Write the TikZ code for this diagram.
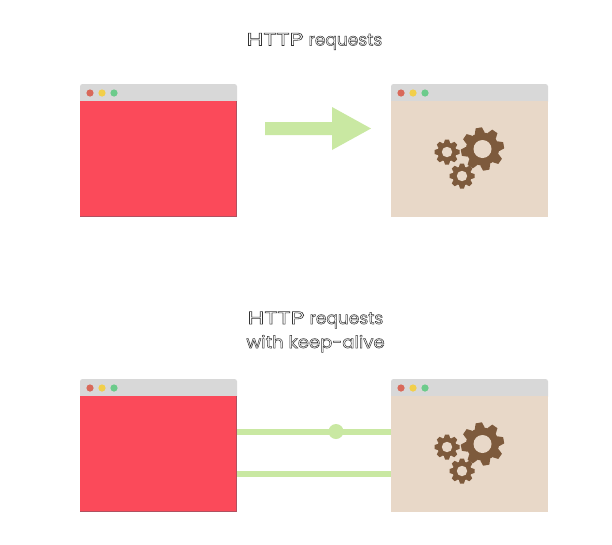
\documentclass[tikz,border=0pt]{standalone}
\usepackage{fontspec}
\usepackage{graphicx}
\setmainfont{Poppins}
\usetikzlibrary{calc}
\definecolor{winred}{HTML}{FB4A5A}
\definecolor{winedge}{HTML}{B05060}
\definecolor{winbeige}{HTML}{E8D8C8}
\definecolor{wintitle}{HTML}{D8D8D8}
\definecolor{linkgreen}{HTML}{C9E8A2}
\definecolor{gearbrown}{HTML}{7D5A3C}
\definecolor{dotred}{HTML}{D9695A}
\definecolor{dotyellow}{HTML}{F2CF4A}
\definecolor{dotgreen}{HTML}{6CCB8B}
\tikzset{
  body/.style={draw=none,inner sep=0pt,minimum width=157pt,anchor=north west},
  titlebar/.style={fill=wintitle,rounded corners=2.5pt},
  lbl/.style={inner sep=0pt,align=center,font=\fontsize{17}{24}\selectfont},
  link/.style={draw=linkgreen,line width=6pt},
}
\newcommand{\outl}[1]{\special{pdf:code 2 Tr 0.5 w 0.2 0.2 0.2 RG 1 1 1 rg}#1\special{pdf:code 0 Tr 0 0 0 RG 0 0 0 rg}}
\newcommand{\httpreq}{\scalebox{1.42}[1.05]{\outl{HTTP}}\hspace{5pt}\outl{requests}}
% \gearshape{x}{y}{outer r}{hole r}{tooth half width}{root r}{offset}
\newcommand{\gearshape}[7]{%
  \fill[gearbrown] (#1,#2) circle (#6pt);
  \foreach \a in {0,45,...,315}{
    \fill[gearbrown,shift={(#1,#2)},rotate=\a+#7] (0,-#5) -- (#6,-#5*1.15) -- (#3,-#5*.75) -- (#3,#5*.75) -- (#6,#5*1.15) -- (0,#5) -- cycle;
  }
  \fill[winbeige] (#1,#2) circle (#4pt);
}
% \winframe{name}{x}{top}{body colour}{body height}
\newcommand{\winframe}[5]{%
  \fill[titlebar] (#2,#3) rectangle ++(157,20);
  \node[body,fill=#4,minimum height=#5pt] (#1) at (#2,#3+17) {};
  \fill[dotred] (#2+10,#3+9) circle (3.6pt);
  \fill[dotyellow] (#2+22,#3+9) circle (3.6pt);
  \fill[dotgreen] (#2+34,#3+9) circle (3.6pt);
}
\newcommand{\gearset}[1]{%
  \gearshape{482.5}{#1}{21.5}{9}{4.2}{16.5}{10}
  \gearshape{447}{#1+3}{12.5}{5.2}{2.6}{9.5}{0}
  \gearshape{462}{#1+27}{12.5}{5.2}{2.6}{9.5}{0}
}
\begin{document}
\begin{tikzpicture}[x=1pt,y=-1pt]
\useasboundingbox (0,0) rectangle (612,544);
\fill[white] (0,0) rectangle (612,544);
\node[lbl] (t1) at (314.5,41.5) {\httpreq};
\node[lbl] (t2) at (315.5,332) {\httpreq\\[0pt]\scalebox{1.06}[1]{\outl{with keep-alive}}};
% top pair
\winframe{a1}{80}{84}{winred}{116}
\winframe{b1}{391}{84}{winbeige}{116}
\draw[winedge,line width=1pt] (80,216.5) -- (236.5,216.5) -- (236.5,101);
\gearset{149}
\coordinate (as) at (265,128.5);
\coordinate (ae) at (332,128.5);
\fill[linkgreen] (as)+(0,-6.5) -- ($(ae)+(0,-6.5)$) -- ($(ae)+(0,-21.5)$) -- (371,128.5) -- ($(ae)+(0,21.5)$) -- ($(ae)+(0,6.5)$) -- ($(as)+(0,6.5)$) -- cycle;
% bottom pair
\winframe{a2}{80}{379}{winred}{116}
\winframe{b2}{391}{379}{winbeige}{116}
\draw[winedge,line width=1pt] (80,511.5) -- (236.5,511.5) -- (236.5,396);
\gearset{444}
\draw[link] (a2.east |- 0,431.5) -- (b2.west |- 0,431.5);
\draw[link] (a2.east |- 0,473.5) -- (b2.west |- 0,473.5);
\node[circle,fill=linkgreen,minimum size=15pt,inner sep=0pt] (pulse) at (336,431.5) {};
\end{tikzpicture}
\end{document}
